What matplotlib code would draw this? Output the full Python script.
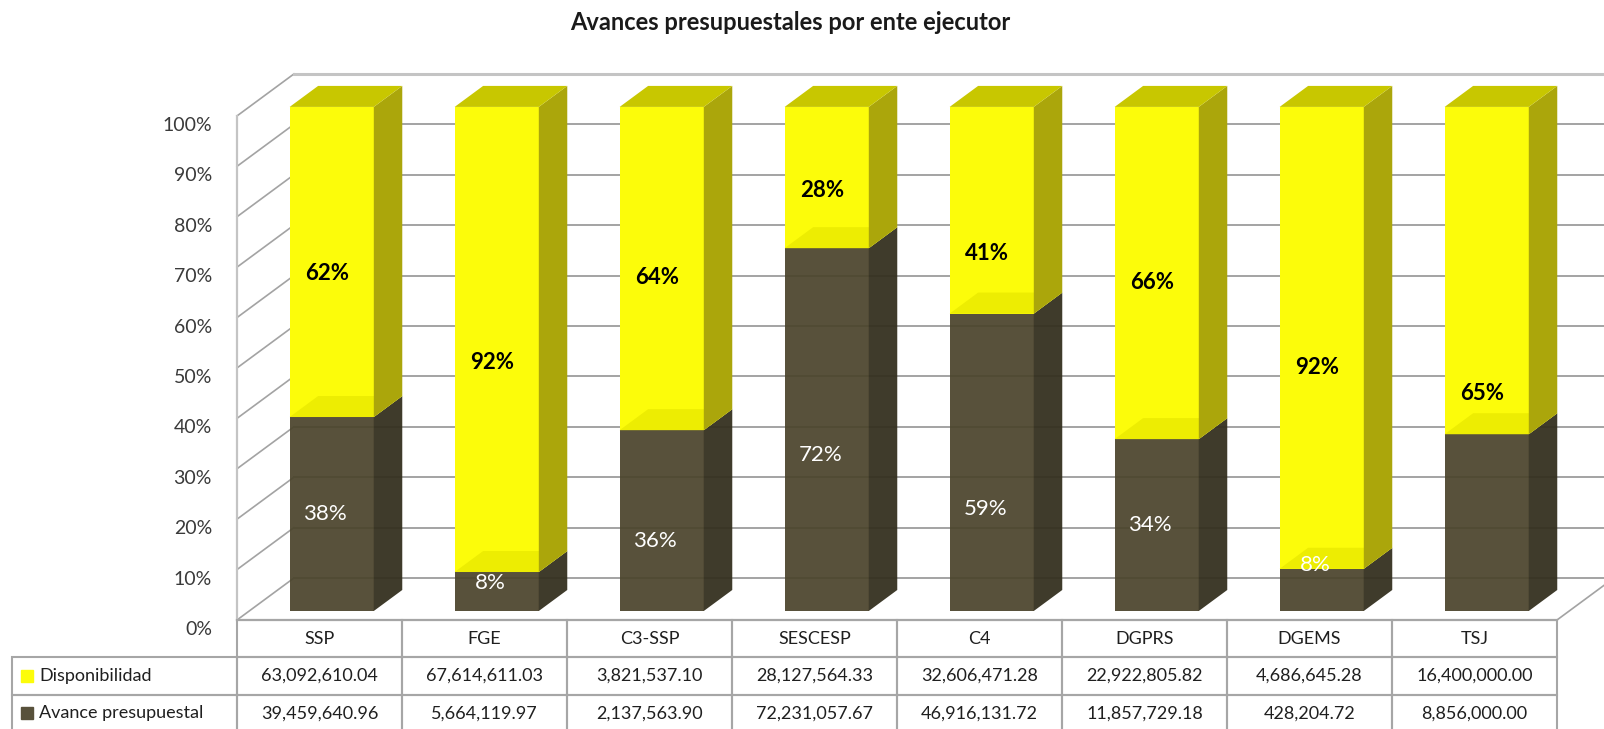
import numpy as np
import matplotlib
matplotlib.use("Agg")
import matplotlib.pyplot as plt
import matplotlib.transforms as mtransforms
from matplotlib.patches import Polygon, Rectangle

plt.rcParams['font.family'] = ['Lato', 'DejaVu Sans']

#   datos por ente ejecutor
entes = ['SSP', 'FGE', 'C3-SSP', 'SESCESP', 'C4', 'DGPRS', 'DGEMS', 'TSJ']
disponibilidad = [63092610.04, 67614611.03, 3821537.10, 28127564.33,
                  32606471.28, 22922805.82, 4686645.28, 16400000.00]
avance = [39459640.96, 5664119.97, 2137563.90, 72231057.67,
          46916131.72, 11857729.18, 428204.72, 8856000.00]
series = ['Disponibilidad', 'Avance presupuestal']
pct_ticks = list(range(0, 101, 10))

#   the labels were dragged around by hand in the original sheet
nudge_disp = [-2.3, -4.6, -1.8, -2.6, -8.5, -1.8, -5.9, -24.3]
nudge_av = [0, 1.6, -4.1, -5.0, -9.2, 0, 4.9, 0]
show_av = [True, True, True, True, True, True, True, False]

#   colours (dark ones are a bit transparent, so the base is darker)
yel_front, yel_side, yel_top, yel_join = '#FCFC0A', '#ABA60B', '#C8C700', '#EDED02'
drk_front, drk_side = '#4B442C', '#34301F'
grid_col, wall_col = '#A3A3A3', '#C4C4C4'

W, H = 1604, 729
fig = plt.figure(figsize=(W / 100, H / 100), dpi=100)

disp = np.array(disponibilidad)
av = np.array(avance)
tot = disp + av
p_disp = disp / tot * 100
p_av = av / tot * 100
x = np.arange(len(entes))

#   fake 3d: depth offset in data units
DX, DY = 0.345, 8.33
d0, d1 = 0.215, 0.715
bw = 0.51

ax = fig.add_axes([225 / W, (H - 625) / H, (W - 225) / W, 625 / H])
ax.set_xlim(-0.5727, 7.785)
ax.set_ylim(-0.99, 123.0)
for s in ax.spines.values():
    s.set_visible(False)
ax.set_xticks([])
ax.set_yticks(pct_ticks)
ax.set_yticklabels(['{}%'.format(t) for t in pct_ticks], fontsize=14, color='#3A3A3A')
ax.tick_params(axis='y', length=0, pad=9.4)
offset = mtransforms.ScaledTranslation(0, -0.08, fig.dpi_scale_trans)
for lbl in ax.get_yticklabels():
    lbl.set_transform(lbl.get_transform() + offset)

#   walls and gridlines
xl, xr = -0.5, len(entes) - 0.5
for v in pct_ticks:
    ax.plot([xl + DX, xr + DX + 1], [v + DY, v + DY], color=grid_col, lw=1.4, zorder=1)
    ax.plot([xl, xl + DX], [v, v + DY], color=grid_col, lw=1.2, zorder=1)
ax.plot([xl + DX, xr + DX + 1], [100 + DY, 100 + DY], color=wall_col, lw=2.2, zorder=1)
ax.plot([xl, xl], [0, 100], color=wall_col, lw=1.6, zorder=1)
ax.plot([xl, xr], [0, 0], color=wall_col, lw=1.6, zorder=1)
ax.plot([xr, xr + DX], [0, DY], color=grid_col, lw=1.2, zorder=1)

#   bars
dd = d1 - d0
base = d0 * DY
xc = x + d0 * DX
ax.bar(xc, p_av, width=bw, bottom=base, color=drk_front, alpha=0.93, lw=0, zorder=3)
ax.bar(xc, p_disp, width=bw, bottom=base + p_av, color=yel_front, lw=0, zorder=4)
for i in range(len(entes)):
    L, R = xc[i] - bw / 2, xc[i] + bw / 2
    t = base + p_av[i]
    top = base + 100
    ax.add_patch(Polygon([(R, base), (R + dd * DX, base + dd * DY),
                          (R + dd * DX, t + dd * DY), (R, t)],
                         closed=True, color=drk_side, alpha=0.95, lw=0, zorder=3))
    ax.add_patch(Polygon([(L, t), (R, t), (R + dd * DX, t + dd * DY), (L + dd * DX, t + dd * DY)],
                         closed=True, color=yel_join, lw=0, zorder=4.5))
    ax.add_patch(Polygon([(R, t), (R + dd * DX, t + dd * DY),
                          (R + dd * DX, top + dd * DY), (R, top)],
                         closed=True, color=yel_side, lw=0, zorder=5))
    ax.add_patch(Polygon([(L, top), (R, top), (R + dd * DX, top + dd * DY), (L + dd * DX, top + dd * DY)],
                         closed=True, color=yel_top, lw=0, zorder=5))

    ax.text(xc[i] - 0.03, base + p_av[i] + p_disp[i] / 2 + nudge_disp[i],
            '{:.0f}%'.format(p_disp[i]), ha='center', va='center',
            fontsize=16, fontweight='bold', color='black', zorder=6)
    if show_av[i]:
        ax.text(xc[i] - 0.04, base + p_av[i] / 2 + nudge_av[i],
                '{:.0f}%'.format(p_av[i]), ha='center', va='center',
                fontsize=16, color='white', zorder=6)

fig.text(790 / W, 1 - 22 / H, 'Avances presupuestales por ente ejecutor',
         ha='center', va='center', fontsize=17, fontweight='bold', color='#1A1A1A')

#   data table under the chart (last row runs off the bottom edge)
col_w = [225] + [165] * len(entes)
ax_t = fig.add_axes([12 / W, -3 / H, sum(col_w) / W, 112 / H])
ax_t.axis('off')
cell_text = [[''] + entes,
             [series[0]] + ['{:,.2f}'.format(v) for v in disponibilidad],
             [series[1]] + ['{:,.2f}'.format(v) for v in avance]]
tab = ax_t.table(cellText=cell_text, colWidths=[c / sum(col_w) for c in col_w],
                 cellLoc='center', bbox=[0, 0, 1, 1])
tab.auto_set_font_size(False)
tab.set_fontsize(13)
for (r, c), cell in tab.get_celld().items():
    cell.set_edgecolor('#A6A6A6')
    cell.set_linewidth(1.5)
    cell.set_facecolor('none')
    cell.get_text().set_color('#1F1F1F')
    if r == 0 and c == 0:
        cell.visible_edges = ''
    if c == 0 and r > 0:
        cell.get_text().set_horizontalalignment('left')
        cell.PAD = 27 / 225
for k, col in enumerate([yel_front, '#58513B']):
    yc = (2 - k - 0.5) / 3
    ax_t.add_patch(Rectangle((9 / sum(col_w), yc - 0.053), 12 / sum(col_w), 0.106,
                             transform=ax_t.transAxes, color=col, zorder=5))

fig.savefig('out.png', dpi=100)
